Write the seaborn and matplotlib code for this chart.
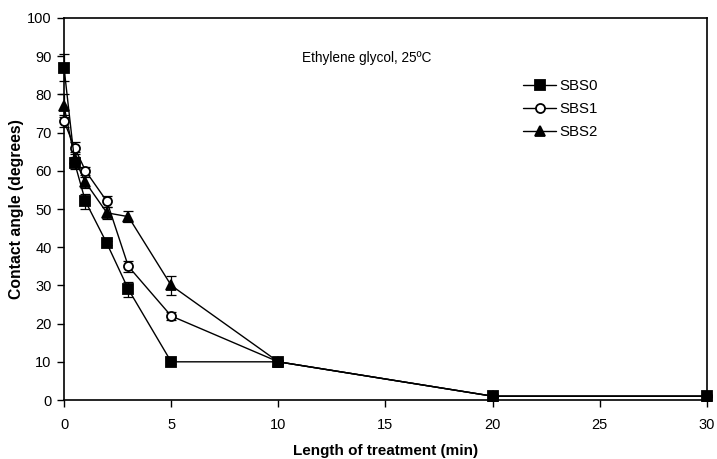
import matplotlib
matplotlib.use("Agg")
import matplotlib.pyplot as plt
import seaborn as sns
import pandas as pd
import numpy as np

time = [0, 0.5, 1, 2, 3, 5, 10, 20, 30]
sbs0 = [87, 62, 52, 41, 29, 10, 10, 1, 1]
sbs0_err = [3.5, 1.5, 2, 0.5, 2, 0.5, 0.5, 0.3, 0.3]
sbs1 = [73, 66, 60, 52, 35, 22, 10, 1, 1]
sbs1_err = [1.5, 1.5, 1, 1.5, 1.5, 1, 0.5, 0.3, 0.3]
sbs2 = [77, 63, 57, 49, 48, 30, 10, 1, 1]
sbs2_err = [3, 2, 1.5, 1.5, 1.5, 2.5, 0.5, 0.3, 0.3]
series = ["SBS0", "SBS1", "SBS2"]

sns.set_theme(style="white")
plt.rcParams["font.family"] = ["Liberation Sans", "DejaVu Sans"]
plt.rcParams["text.color"] = "black"
plt.rcParams["axes.labelcolor"] = "black"
plt.rcParams["xtick.color"] = "black"
plt.rcParams["ytick.color"] = "black"

df = pd.DataFrame({
    "time": time * 3,
    "angle": sbs0 + sbs1 + sbs2,
    "err": sbs0_err + sbs1_err + sbs2_err,
    "series": [s for s in series for _ in time],
})

fig = plt.figure(figsize=(7.17, 4.59), dpi=100)
ax = fig.add_axes([0.0893, 0.1285, 0.8967, 0.8323])

markers = {"SBS0": "s", "SBS1": "o", "SBS2": "^"}
mfc = {"SBS0": "black", "SBS1": "white", "SBS2": "black"}
order = ["SBS2", "SBS1", "SBS0"]
for s in order:
    d = df[df.series == s]
    eb = ax.errorbar(d.time, d.angle, yerr=d.err, fmt="none", ecolor="black",
                     elinewidth=0.9, capsize=3.5, capthick=0.9, zorder=2)
    for art in eb.lines[1] + eb.lines[2]:
        art.set_clip_on(False)
    sns.lineplot(data=d, x="time", y="angle", ax=ax, color="black",
                 marker=markers[s], markersize=7 if s != "SBS2" else 7.5,
                 markerfacecolor=mfc[s], markeredgecolor="black",
                 markeredgewidth=1.3, linewidth=1.0, label=s, zorder=3,
                 clip_on=False)

ax.set_xlim(0, 30)
ax.set_ylim(0, 100)
ax.set_xticks(np.arange(0, 31, 5))
ax.set_yticks(np.arange(0, 101, 10))
ax.tick_params(axis="both", direction="out", length=5, width=1, color="black",
               labelsize=10.5, labelcolor="black", bottom=True, left=True, pad=4)
ax.tick_params(axis="x", pad=8)
for sp in ax.spines.values():
    sp.set_color("black")
    sp.set_linewidth(1.2)

ax.set_xlabel("Length of treatment (min)", fontsize=11, fontweight="bold",
              labelpad=8.5, color="black")
ax.set_ylabel("Contact angle (degrees)", fontsize=11.3, fontweight="bold",
              labelpad=2, color="black")

ax.text(14.1, 89.5, "Ethylene glycol, 25ºC", fontsize=9.8, ha="center",
        va="center", color="black")

h, l = ax.get_legend_handles_labels()
idx = [l.index(s) for s in series]
for hh in h:
    hh.set_markersize(6.5)
leg = ax.legend([h[i] for i in idx], [l[i] for i in idx], loc="upper left",
                bbox_to_anchor=(0.693, 0.875), frameon=False, fontsize=10.8,
                handlelength=2.2, handletextpad=0.2, labelspacing=0.6)
for t in leg.get_texts():
    t.set_color("black")

fig.savefig("out.png", dpi=100)
